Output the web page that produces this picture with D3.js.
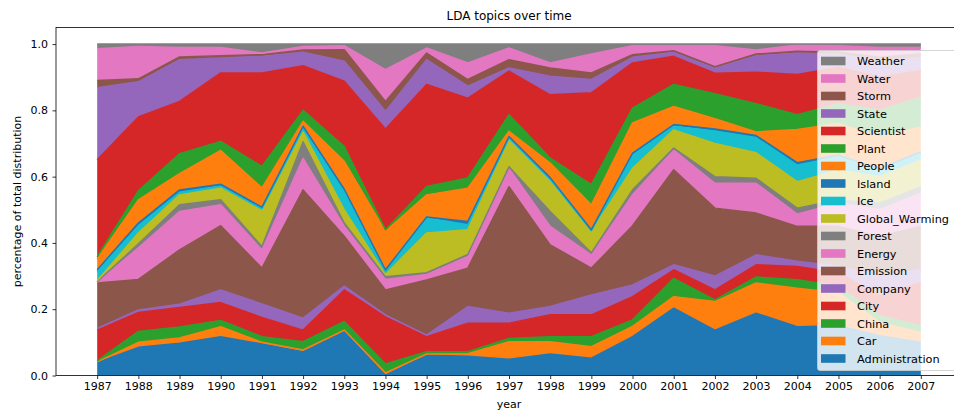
<!DOCTYPE html>
<html><head><meta charset="utf-8">
<script src="https://cdn.jsdelivr.net/npm/d3@7"></script>
<style>body{margin:0;background:#fff} text{font-family:"DejaVu Sans",sans-serif;fill:#000}</style>
</head><body><svg id="c" width="954" height="412"></svg>
<script>
const years=[1987,1988,1989,1990,1991,1992,1993,1994,1995,1996,1997,1998,1999,2000,2001,2002,2003,2004,2005,2006,2007];
const topics=["Administration","Car","China","City","Company","Emission","Energy","Forest","Global_Warming","Ice","Island","People","Plant","Scientist","State","Storm","Water","Weather"];
const yTicks=[0,0.2,0.4,0.6,0.8,1.0];

const administration=[.039,.085,.097,.117,.095,.072,.132,.001,.062,.058,.049,.065,.052,.117,.203,.137,.188,.147,.150,.120,.100];
const car=[.002,.015,.016,.030,.005,.005,.005,.007,.003,.008,.053,.037,.035,.031,.035,.086,.091,.116,.100,.040,.030];
const china=[.003,.033,.033,.019,.017,.025,.026,.027,.007,.006,.010,.015,.030,.020,.055,.005,.018,.026,.020,.020,.020];
const city=[.093,.057,.059,.054,.058,.035,.095,.142,.045,.086,.046,.066,.066,.070,.026,.030,.037,.040,.040,.060,.130];
const company=[.005,.008,.010,.038,.041,.036,.012,.006,.005,.050,.030,.025,.060,.035,.015,.042,.030,.016,.020,.060,.040];
const emission=[.137,.092,.164,.194,.108,.387,.150,.075,.166,.116,.382,.186,.081,.179,.287,.205,.126,.105,.120,.120,.130];
const energy=[.002,.095,.116,.063,.055,.095,.030,.032,.017,.035,.055,.056,.040,.093,.059,.075,.090,.037,.070,.080,.100];
const forest=[.002,.012,.020,.015,.010,.050,.010,.008,.005,.006,.005,.045,.006,.015,.006,.020,.015,.018,.010,.020,.020];
const globalWarming=[.003,.033,.030,.035,.108,.030,.040,.007,.120,.075,.081,.090,.064,.065,.055,.100,.077,.080,.090,.080,.080];
const ice=[.028,.022,.008,.007,.006,.010,.055,.007,.045,.015,.005,.007,.003,.040,.012,.038,.046,.050,.040,.020,.020];
const island=[.005,.008,.007,.005,.005,.007,.007,.007,.003,.010,.005,.005,.003,.006,.004,.006,.006,.007,.005,.005,.005];
const people=[.033,.070,.049,.102,.058,.015,.084,.116,.067,.100,.016,.044,.075,.091,.055,.031,.011,.100,.095,.095,.075];
const plant=[.006,.027,.060,.027,.065,.033,.045,.005,.025,.031,.050,.015,.061,.045,.066,.075,.085,.045,.060,.080,.090];
const scientist=[.293,.223,.158,.207,.282,.135,.197,.304,.308,.241,.131,.191,.277,.136,.085,.062,.095,.121,.110,.100,.080];
const state=[.217,.106,.126,.045,.050,.040,.060,.053,.075,.036,.010,.056,.040,.017,.012,.015,.050,.065,.040,.050,.040];
const storm=[.022,.009,.008,.007,.005,.007,.035,.030,.020,.020,.025,.025,.020,.008,.005,.005,.005,.005,.005,.010,.010];
const water=[.096,.098,.029,.025,.005,.011,.012,.096,.015,.050,.035,.015,.057,.027,.015,.063,.012,.019,.020,.030,.020];
const weather=[.014,.007,.010,.010,.027,.007,.005,.077,.012,.057,.012,.057,.030,.005,.005,.005,.018,.003,.005,.010,.010];

const seriesByTopic={Administration:administration,Car:car,China:china,City:city,Company:company,Emission:emission,Energy:energy,Forest:forest,Global_Warming:globalWarming,Ice:ice,Island:island,People:people,Plant:plant,Scientist:scientist,State:state,Storm:storm,Water:water,Weather:weather};
const palette=["#1f77b4","#ff7f0e","#2ca02c","#d62728","#9467bd","#8c564b","#e377c2","#7f7f7f","#bcbd22","#17becf"];

const W=954,H=412;
const L=56,R=962,T=27.5,B=375.5;
const svg=d3.select("#c");
const x=d3.scaleLinear().domain([1986,2008]).range([L,R]);
const y=d3.scaleLinear().domain([0,1.05]).range([B,T]);
const color=d3.scaleOrdinal().domain(topics).range(topics.map((t,i)=>palette[i%10]));

const table=years.map((yr,i)=>{const r={year:yr};topics.forEach(t=>r[t]=seriesByTopic[t][i]);return r;});
const stacked=d3.stack().keys(topics)(table);

svg.append("defs").append("clipPath").attr("id","clip").append("rect").attr("x",L).attr("y",T).attr("width",R-L).attr("height",B-T);
const plot=svg.append("g").attr("clip-path","url(#clip)");
const area=d3.area().x(d=>x(d.data.year)).y0(d=>y(d[0])).y1(d=>y(d[1]));
const line=d3.line().x(d=>x(d.data.year)).y(d=>y(d[1]));
plot.selectAll("path.area").data(stacked).join("path").attr("class","area").attr("d",area).attr("fill",d=>color(d.key));
plot.selectAll("path.ln").data(stacked).join("path").attr("class","ln").attr("d",line).attr("fill","none").attr("stroke",d=>color(d.key)).attr("stroke-width",1.5).attr("stroke-linejoin","round");

// axes
const xAxis=d3.axisBottom(x).tickValues(years).tickFormat(d3.format("d")).tickSize(3.5).tickPadding(3.5);
const gx=svg.append("g").attr("transform",`translate(0,${B})`).call(xAxis);
const yAxis=d3.axisLeft(y).tickValues(yTicks).tickFormat(d3.format(".1f")).tickSize(3.5).tickPadding(4.5);
const gy=svg.append("g").attr("transform",`translate(${L},0)`).call(yAxis);
[gx,gy].forEach(g=>{g.select(".domain").remove();g.selectAll("line").attr("stroke","#000").attr("stroke-width",0.8);g.selectAll("text").attr("font-size","11px").attr("font-family","DejaVu Sans").attr("fill","#000");});

// spines
svg.append("rect").attr("x",L).attr("y",T).attr("width",R-L).attr("height",B-T).attr("fill","none").attr("stroke","#000").attr("stroke-width",0.8);

// labels
svg.append("text").attr("x",(L+R)/2).attr("y",20).attr("text-anchor","middle").attr("font-size","12px").text("LDA topics over time");
svg.append("text").attr("x",(L+R)/2).attr("y",408).attr("text-anchor","middle").attr("font-size","11px").text("year");
svg.append("text").attr("transform",`translate(21,${(T+B)/2}) rotate(-90)`).attr("text-anchor","middle").attr("font-size","11px").text("percentage of total distribution");

// legend
const lg=svg.append("g");
lg.append("rect").attr("x",817.5).attr("y",50.5).attr("width",160).attr("height",320).attr("rx",2.5).attr("fill","#fff").attr("fill-opacity",0.8).attr("stroke","#ccc").attr("stroke-opacity",0.8);
const legendTopics=topics.slice().reverse();
const items=lg.selectAll("g.item").data(legendTopics).join("g").attr("class","item").attr("transform",(d,i)=>`translate(0,${61+i*17.5})`);
items.append("rect").attr("x",821).attr("y",-4.3).attr("width",24.5).attr("height",8.6).attr("fill",d=>color(d));
items.append("text").attr("x",857).attr("y",4).attr("font-size","11.3px").text(d=>d);
</script></body></html>
